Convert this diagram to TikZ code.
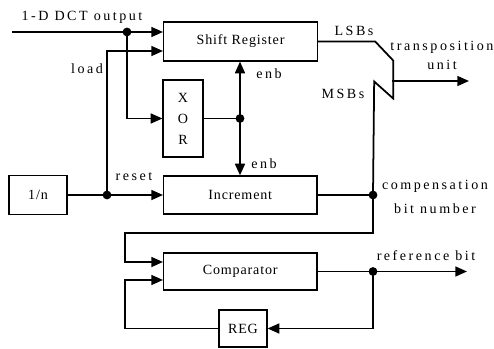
\documentclass[tikz,border=0pt]{standalone}
\usepackage{fontspec}
\setmainfont{Liberation Serif}
\newfontfamily\lblfont{Liberation Serif}[LetterSpace=18]
\newfontfamily\boxfont{Liberation Serif}[LetterSpace=6]
\usetikzlibrary{arrows.meta,calc}

\begin{document}
\begin{tikzpicture}[x=0.03cm, y=-0.03cm,
  blk/.style={rectangle, draw, line width=1pt, align=center, inner sep=0pt, font=\boxfont\fontsize{12}{14}\selectfont},
  lbl/.style={inner sep=0pt, align=center, font=\lblfont\fontsize{12}{14}\selectfont},
  wire/.style={line width=1.5pt},
  arr/.style={wire, -{Triangle[length=10pt, width=8.5pt]}},
  dot/.style={circle, fill, inner sep=0pt, minimum size=7.5pt}
]
  \useasboundingbox (0,0) rectangle (494,349);

  % blocks
  \node[blk, minimum width=4.62cm, minimum height=1.17cm, anchor=west] (shreg) at (163,41.5) {Shift Register};
  \node[blk, minimum width=1.2cm, minimum height=2.31cm] (xorb) at (183,118.5) {X\\[4pt]O\\[4pt]R};
  \node[blk, minimum width=1.74cm, minimum height=1.17cm] (inv) at (38,195) {1/n};
  \node[blk, minimum width=4.6cm, minimum height=1.14cm, anchor=west] (inc) at (163,195) {Increment};
  \node[blk, minimum width=4.6cm, minimum height=1.11cm, anchor=west] (comp) at (163,271.5) {Comparator};
  \node[blk, minimum width=1.44cm, minimum height=1.11cm] (reg) at (243,328.5) {REG};

  % junctions and free ends
  \coordinate (dctin) at (12,32);
  \coordinate (j1) at (127,32);
  \coordinate (j2) at (107,195);
  \coordinate (j3) at (240,118.5);
  \coordinate (j4) at (373,195);
  \coordinate (j5) at (373,271.5);
  \coordinate (fb) at (125,233);
  \coordinate (mrg) at (392,81);
  \coordinate (tout) at (469,81);
  \coordinate (rout) at (467,271.5);

  % connectors
  \draw[arr] (dctin) -- (dctin -| shreg.west);
  \draw[arr] (j1) |- (xorb.west);
  \draw[arr] (j2) |- ($(shreg.west)+(0,9.5)$);
  \draw[arr] (inv.east) -- (inc.west);
  \draw[wire] (xorb.east) -- (j3);
  \draw[arr] (j3) -- (j3 |- shreg.south);
  \draw[arr] (j3) -- (j3 |- inc.north);
  \draw[wire] (inc.east) -- (j4);
  \draw[wire] (shreg.east) -- ++(57,0) -- ++(18,19) -- ++(0,38) -- ++(-19,-17) -- (j4);
  \draw[arr] (mrg) -- (tout);
  \draw[arr] (j4) |- (fb) |- ($(comp.west)+(0,-9.5)$);
  \draw[wire] (comp.east) -- (j5);
  \draw[arr] (j5) -- (rout);
  \draw[arr] (j5) |- (reg.east);
  \draw[arr] (reg.west) -| ($(comp.west)+(-38,8.5)$) -- ($(comp.west)+(0,8.5)$);

  \foreach \j in {j1,j2,j3,j4,j5}
    \node[dot] (d\j) at (\j) {};

  % labels
  \node[lbl] (tdct) at (82,17) {1-D DCT output};
  \node[lbl] (tload) at (87,69) {load};
  \node[lbl] (treset) at (134,177) {reset};
  \node[lbl] (tenb1) at (269,74) {enb};
  \node[lbl] (tenb2) at (264,164) {enb};
  \node[lbl] (tlsb) at (354,31) {LSBs};
  \node[lbl] (tmsb) at (343,94) {MSBs};
  \node[lbl] (ttu) at (442,55.5) {transposition\\[2pt]unit};
  \node[lbl] (tcomp) at (435,197) {compensation\\[6pt]bit number};
  \node[lbl] (tref) at (426,256) {reference bit};
\end{tikzpicture}
\end{document}
